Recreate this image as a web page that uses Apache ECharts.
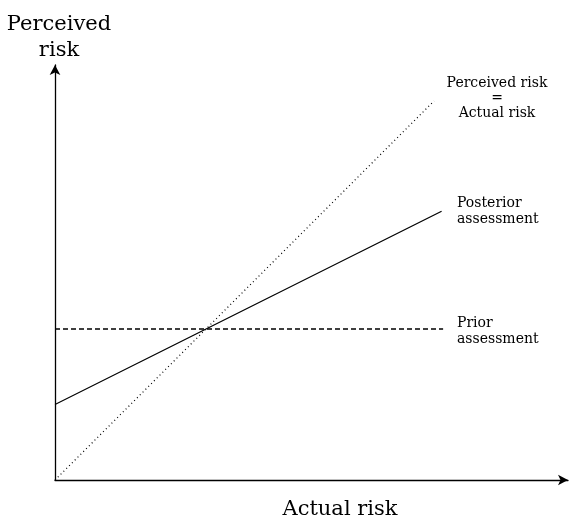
<!DOCTYPE html>
<html><head><meta charset="utf-8">
<script src="https://cdn.jsdelivr.net/npm/echarts@6/dist/echarts.min.js"></script>
<style>html,body{margin:0;padding:0;background:#fff}#c{width:569px;height:524px}</style>
</head><body><div id="c"></div>
<script>
// Values in units where the two assessment lines cross at (1, 1)
const equalityX = [0, 2.51];
const equalityY = [0, 2.51];
const posteriorX = [0, 2.56];
const posteriorY = [0.5, 1.78];
const priorX = [0, 2.57];
const priorY = [1, 1];
const axisNames = { x: 'Actual risk', y: 'Perceived\nrisk' };
const lineLabels = {
  equality: 'Perceived risk\n=\nActual risk',
  posterior: 'Posterior\nassessment',
  prior: 'Prior\nassessment'
};

const pairs = (xs, ys) => xs.map((x, i) => [x, ys[i]]);
const serif = 'DejaVu Serif';
const chart = echarts.init(document.getElementById('c'));
const axisCommon = {
  type: 'value', min: 0,
  axisLine: { show: true, symbol: ['none', 'arrow'], symbolSize: [8, 10], lineStyle: { color: '#000', width: 1.3 } },
  axisTick: { show: false }, axisLabel: { show: false }, splitLine: { show: false }
};
chart.setOption({
  animation: false,
  grid: { left: 55, right: 1, top: 65, bottom: 44, containLabel: false, outerBoundsMode: 'none' },
  xAxis: Object.assign({}, axisCommon, {
    max: 3.397, name: axisNames.x, nameLocation: 'middle', nameGap: 19,
    nameTextStyle: { fontFamily: serif, fontSize: 21, color: '#000', padding: [0, 0, 0, 57] }
  }),
  yAxis: Object.assign({}, axisCommon, {
    max: 2.748, name: axisNames.y, nameLocation: 'end', nameGap: 1,
    nameTextStyle: { fontFamily: serif, fontSize: 21, color: '#000', align: 'center', lineHeight: 26, padding: [0, 0, 0, 8] }
  }),
  series: [
    { type: 'line', data: pairs(equalityX, equalityY), symbol: 'none', lineStyle: { color: '#000', width: 1.2, type: [1, 3] } },
    { type: 'line', data: pairs(posteriorX, posteriorY), symbol: 'none', lineStyle: { color: '#000', width: 1.2 } },
    { type: 'line', data: pairs(priorX, priorY), symbol: 'none', lineStyle: { color: '#000', width: 1.4, type: [5, 3] } }
  ],
  graphic: [
    { type: 'text', x: 497, y: 76, style: { text: lineLabels.equality, font: '14px "DejaVu Serif"', fill: '#000', align: 'center', verticalAlign: 'top', lineHeight: 15 } },
    { type: 'text', x: 457, y: 195, style: { text: lineLabels.posterior, font: '14px "DejaVu Serif"', fill: '#000', verticalAlign: 'top', lineHeight: 16 } },
    { type: 'text', x: 457, y: 315, style: { text: lineLabels.prior, font: '14px "DejaVu Serif"', fill: '#000', verticalAlign: 'top', lineHeight: 16 } }
  ]
});
</script></body></html>
